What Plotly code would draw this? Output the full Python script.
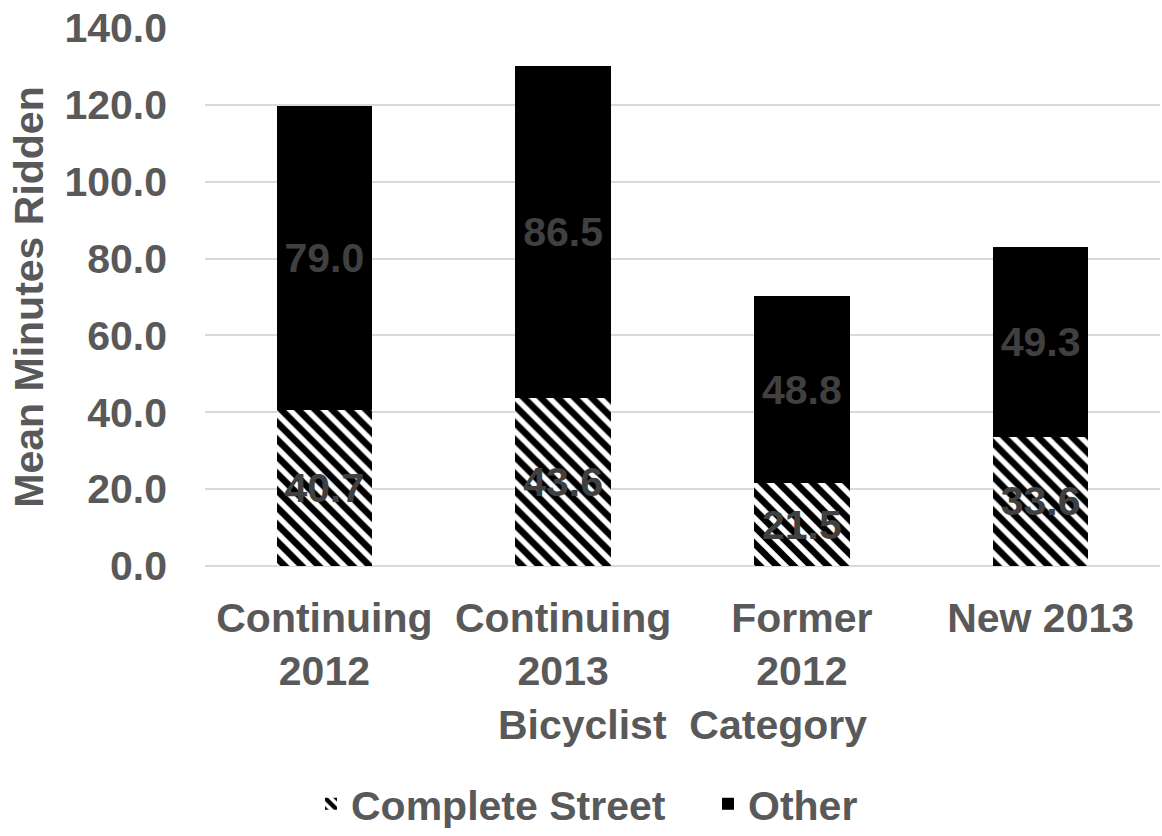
import plotly.graph_objects as go

categories = ["Continuing<br>2012", "Continuing<br>2013", "Former<br>2012", "New 2013"]
complete_street = [40.7, 43.6, 21.5, 33.6]
other = [79.0, 86.5, 48.8, 49.3]
y_ticks = [0, 20, 40, 60, 80, 100, 120, 140]

FONT = "Liberation Sans, Arial, sans-serif"
GREY = "#595959"
LABEL = "#404040"
SIZE = 41

fig = go.Figure()
fig.add_trace(go.Bar(
    name="Complete Street",
    x=categories,
    y=complete_street,
    text=[f"{v:.1f}" for v in complete_street],
    textposition="inside",
    insidetextanchor="middle",
    constraintext="none",
    textfont=dict(family=FONT, size=SIZE, color=LABEL, weight="bold"),
    marker=dict(
        color="white",
        line=dict(width=0),
        pattern=dict(shape="\\", fgcolor="black", bgcolor="white", fgopacity=1,
                     size=12, solidity=0.55),
    ),
))
fig.add_trace(go.Bar(
    name="Other",
    x=categories,
    y=other,
    text=[f"{v:.1f}" for v in other],
    textposition="inside",
    insidetextanchor="middle",
    constraintext="none",
    textfont=dict(family=FONT, size=SIZE, color=LABEL, weight="bold"),
    marker=dict(color="black", line=dict(width=0)),
))

fig.update_layout(
    width=1162,
    height=836,
    barmode="stack",
    bargap=0.6,
    plot_bgcolor="white",
    paper_bgcolor="white",
    margin=dict(l=205, r=2, t=28, b=270, autoexpand=False),
    font=dict(family=FONT, size=SIZE, color=GREY, weight="bold"),
    xaxis=dict(
        title=dict(text="Bicyclist  Category", font=dict(size=SIZE, color=GREY, weight="bold"), standoff=17),
        tickfont=dict(size=SIZE, color=GREY, weight="bold"),
        ticklabelstandoff=24,
        showline=False,
        ticks="",
        automargin=False,
    ),
    yaxis=dict(
        title=dict(text="Mean Minutes Ridden", font=dict(size=SIZE, color=GREY, weight="bold"), standoff=8),
        range=[0, 140],
        tickvals=y_ticks,
        ticktext=[f"{v:.1f}" for v in y_ticks],
        tickfont=dict(size=SIZE, color=GREY, weight="bold"),
        ticklabelstandoff=37,
        showgrid=True,
        gridcolor="#d9d9d9",
        gridwidth=1.5,
        zeroline=True,
        zerolinecolor="#d9d9d9",
        zerolinewidth=1.5,
        ticks="",
        automargin=False,
    ),
    legend=dict(
        orientation="h",
        x=0.111,
        xanchor="left",
        y=-0.505,
        yanchor="bottom",
        entrywidth=352,
        font=dict(size=SIZE, color=GREY, weight="bold"),
        traceorder="normal",
    ),
)

fig.write_html("out.html")
